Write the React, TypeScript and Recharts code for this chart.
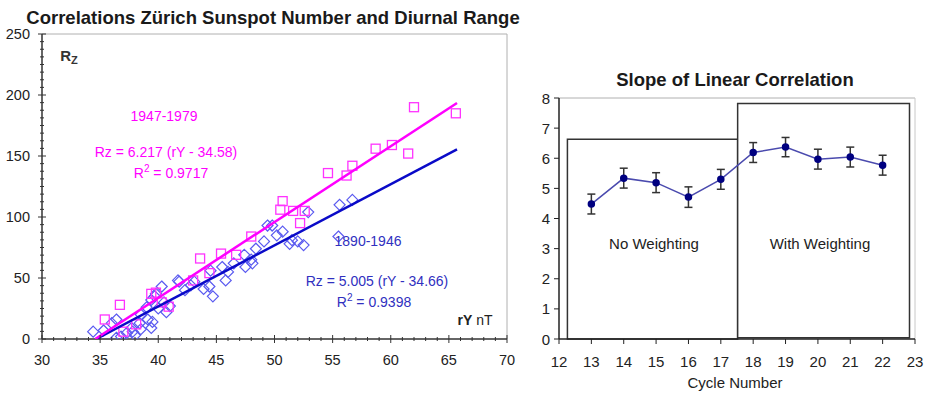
import React from 'react'
import {
  ComposedChart, ErrorBar, Line, ReferenceArea, ReferenceLine, Scatter, ScatterChart, XAxis, YAxis,
} from 'recharts'

// 1947-1979 (magenta squares), [rY nT, Rz]
const squares1947: [number, number][] = [
  [35.4, 16], [36.7, 28], [37.0, 6], [38.1, 12], [39.4, 37], [39.8, 38], [40.9, 26.5], [40.3, 30],
  [43.0, 48], [43.6, 66], [44.4, 54], [45.4, 70], [46.7, 69], [48.0, 84], [50.5, 106], [50.7, 113],
  [51.6, 105], [52.2, 95], [52.6, 105], [54.6, 136], [56.2, 134], [56.7, 142], [58.7, 156],
  [60.1, 159], [61.5, 152], [62.0, 190], [65.6, 185],
]

// 1890-1946 (blue diamonds)
const diamonds1890: [number, number][] = [
  [34.4, 6], [35.3, 7], [36.0, 13], [36.4, 16], [36.4, 1], [36.8, 2], [37.3, 5], [37.7, 9],
  [37.8, 6], [38.0, 3], [38.4, 13], [38.5, 8], [38.5, 20], [39.0, 26], [39.1, 16], [39.4, 9],
  [39.4, 32], [39.5, 14], [39.7, 35], [39.8, 37], [40.0, 25], [40.3, 43], [40.5, 30], [40.7, 22],
  [41.0, 27], [41.7, 48], [41.8, 47], [42.3, 40], [42.8, 44], [43.1, 47], [43.9, 41], [44.4, 43],
  [44.5, 56], [44.7, 35], [45.5, 59], [45.8, 48], [46.0, 55], [46.5, 62], [47.4, 69], [47.5, 59],
  [48.0, 65], [48.1, 62], [48.4, 74], [49.1, 80], [49.4, 93], [49.8, 93], [50.2, 85], [50.7, 88],
  [51.3, 78], [51.5, 81], [52.0, 80], [52.5, 77], [52.9, 104], [55.5, 84], [55.6, 110], [56.7, 114],
]

// fitted line end points
const fit1947: [number, number][] = [[34.58, 0], [65.7, 193.5]]
const fit1890: [number, number][] = [[34.66, 0], [65.7, 155.4]]

// right panel
const cycles = [13, 14, 15, 16, 17, 18, 19, 20, 21, 22]
const slopes = [4.48, 5.34, 5.19, 4.71, 5.3, 6.19, 6.37, 5.97, 6.04, 5.77]
const slopeErr = [0.33, 0.33, 0.33, 0.34, 0.33, 0.33, 0.32, 0.33, 0.33, 0.33]

const xMajor = [30, 35, 40, 45, 50, 55, 60, 65, 70]
const yMajor = [0, 50, 100, 150, 200, 250]
const cycleTicks = [12, 13, 14, 15, 16, 17, 18, 19, 20, 21, 22, 23]
const slopeTicks = [0, 1, 2, 3, 4, 5, 6, 7, 8]

const xTicks: number[] = []
for (let v = 30; v <= 70; v += 1) xTicks.push(v)
const yTicks: number[] = []
for (let v = 0; v <= 250; v += 6.25) yTicks.push(v)

const pts = (a: [number, number][]) => a.map(([x, y]) => ({ x, y }))
const slopeData = cycles.map((c, i) => ({ cycle: c, slope: slopes[i], err: slopeErr[i] }))

const FONT = '"Liberation Sans", Arial, sans-serif'
const MAG = '#ff00ff'
const BLUE = '#0a0ac8'

const Square = (p: any) => <rect x={p.cx - 4.5} y={p.cy - 4.5} width={9} height={9} fill="none" stroke="#ff33ff" strokeWidth={1.3} />
const Diamond = (p: any) => (
  <polygon points={`${p.cx},${p.cy - 5.5} ${p.cx + 5.5},${p.cy} ${p.cx},${p.cy + 5.5} ${p.cx - 5.5},${p.cy}`} fill="none" stroke="#5a5af0" strokeWidth={1.2} />
)

const LeftXTick = ({ x, y, payload }: any) => {
  const major = xMajor.includes(payload.value)
  return (
    <g>
      <line x1={x} x2={x} y1={y - (major ? 4 : 2)} y2={y + (major ? 4 : 2)} stroke="#333" />
      {major && <text x={x} y={y + 21} textAnchor="middle" dominantBaseline="central" fontSize={14.5} fill="#222" fontFamily={FONT}>{payload.value}</text>}
    </g>
  )
}
const LeftYTick = ({ x, y, payload }: any) => {
  const major = yMajor.includes(payload.value)
  return (
    <g>
      <line x1={x - (major ? 4 : 2)} x2={x + (major ? 4 : 2)} y1={y} y2={y} stroke="#333" />
      {major && <text x={x - 12} y={y} textAnchor="end" dominantBaseline="central" fontSize={14.5} fill="#222" fontFamily={FONT}>{payload.value}</text>}
    </g>
  )
}
const RightXTick = ({ x, y, payload }: any) => (
  <g>
    <line x1={x} x2={x} y1={y} y2={y + 5} stroke="#222" />
    <text x={x} y={y + 22} textAnchor="middle" dominantBaseline="central" fontSize={15} fill="#222" fontFamily={FONT}>{payload.value}</text>
  </g>
)
const RightYTick = ({ x, y, payload }: any) => (
  <g>
    <line x1={x - 5} x2={x} y1={y} y2={y} stroke="#222" />
    <text x={x - 9} y={y} textAnchor="end" dominantBaseline="central" fontSize={15} fill="#222" fontFamily={FONT}>{payload.value}</text>
  </g>
)

const Txt = ({ x, y, color = '#222', size = 14, bold = false, children }: any) => (
  <div style={{ position: 'absolute', left: x, top: y, transform: 'translate(-50%, -50%)', color, fontSize: size, fontWeight: bold ? 'bold' : 'normal', whiteSpace: 'nowrap', lineHeight: 1 }}>
    {children}
  </div>
)

export default function App() {
  return (
    <div style={{ position: 'relative', width: 926, height: 393, background: '#fff', fontFamily: FONT, overflow: 'hidden' }}>
      <style>{'body{margin:0}'}</style>

      <div style={{ position: 'absolute', left: 0, top: 0 }}>
        <ScatterChart width={530} height={393} margin={{ top: 34, right: 23, bottom: 24, left: 12 }}>
          <XAxis type="number" dataKey="x" domain={[30, 70]} ticks={xTicks} interval={0} tick={<LeftXTick />} tickLine={false} tickSize={0} tickMargin={0} height={30} stroke="#333" strokeWidth={1.5} allowDataOverflow />
          <YAxis type="number" dataKey="y" domain={[0, 250]} ticks={yTicks} interval={0} tick={<LeftYTick />} tickLine={false} tickSize={0} tickMargin={0} width={30} stroke="#333" strokeWidth={1.5} allowDataOverflow />
          <ReferenceLine y={250} stroke="#b0b0b0" />
          <ReferenceLine x={70} stroke="#b0b0b0" />
          <Scatter data={pts(diamonds1890)} shape={Diamond} isAnimationActive={false} />
          <Scatter data={pts(squares1947)} shape={Square} isAnimationActive={false} />
          <Scatter data={pts(fit1890)} line={{ stroke: BLUE, strokeWidth: 2.5 }} shape={() => <g />} isAnimationActive={false} />
          <Scatter data={pts(fit1947)} line={{ stroke: MAG, strokeWidth: 2.5 }} shape={() => <g />} isAnimationActive={false} />
        </ScatterChart>
      </div>

      <div style={{ position: 'absolute', left: 530, top: 0 }}>
        <ComposedChart width={396} height={393} data={slopeData} margin={{ top: 98, right: 11, bottom: 24, left: 9 }}>
          <XAxis type="number" dataKey="cycle" domain={[12, 23]} ticks={cycleTicks} interval={0} tick={<RightXTick />} tickLine={false} tickSize={0} tickMargin={0} height={30} stroke="#222" strokeWidth={1.5} />
          <YAxis type="number" domain={[0, 8]} ticks={slopeTicks} interval={0} tick={<RightYTick />} tickLine={false} tickSize={0} tickMargin={0} width={20} stroke="#222" strokeWidth={1.5} />
          <ReferenceLine y={8} stroke="#b0b0b0" />
          <ReferenceLine x={23} stroke="#c8c8c8" />
          <ReferenceArea x1={12.26} x2={17.52} y1={0} y2={6.63} fill="#fff" fillOpacity={1} stroke="#333" strokeWidth={1.5} ifOverflow="visible" />
          <ReferenceArea x1={17.52} x2={22.83} y1={0.04} y2={7.82} fill="#fff" fillOpacity={1} stroke="#333" strokeWidth={1.5} ifOverflow="visible" />
          <Line dataKey="slope" stroke="#4a4aae" strokeWidth={1.5} dot={{ r: 3, fill: '#000080', stroke: '#000080' }} isAnimationActive={false}>
            <ErrorBar dataKey="err" direction="y" width={4} stroke="#333" strokeWidth={1.5} />
          </Line>
        </ComposedChart>
      </div>

      <Txt x={273} y={18} size={18.5} bold color="#1a1a1a">Correlations Zürich Sunspot Number and Diurnal Range</Txt>
      <Txt x={69} y={57} size={15} bold color="#333">R<span style={{ fontSize: 11, verticalAlign: -3 }}>Z</span></Txt>
      <Txt x={164} y={116} color={MAG}>1947-1979</Txt>
      <Txt x={166} y={152} color={MAG}>Rz = 6.217 (rY - 34.58)</Txt>
      <Txt x={171} y={172} color={MAG}>R<sup style={{ fontSize: 10 }}>2</sup> = 0.9717</Txt>
      <Txt x={368} y={241} color="#3030c0">1890-1946</Txt>
      <Txt x={377} y={281} color="#3030c0">Rz = 5.005 (rY - 34.66)</Txt>
      <Txt x={374} y={301} color="#3030c0">R<sup style={{ fontSize: 10 }}>2</sup> = 0.9398</Txt>
      <Txt x={475} y={320} color="#222"><b>rY</b> nT</Txt>

      <Txt x={735} y={80} size={18.5} bold color="#1a1a1a">Slope of Linear Correlation</Txt>
      <Txt x={654} y={243} size={15}>No Weighting</Txt>
      <Txt x={820} y={243} size={15}>With Weighting</Txt>
      <Txt x={735} y={382} size={15}>Cycle Number</Txt>
    </div>
  )
}
